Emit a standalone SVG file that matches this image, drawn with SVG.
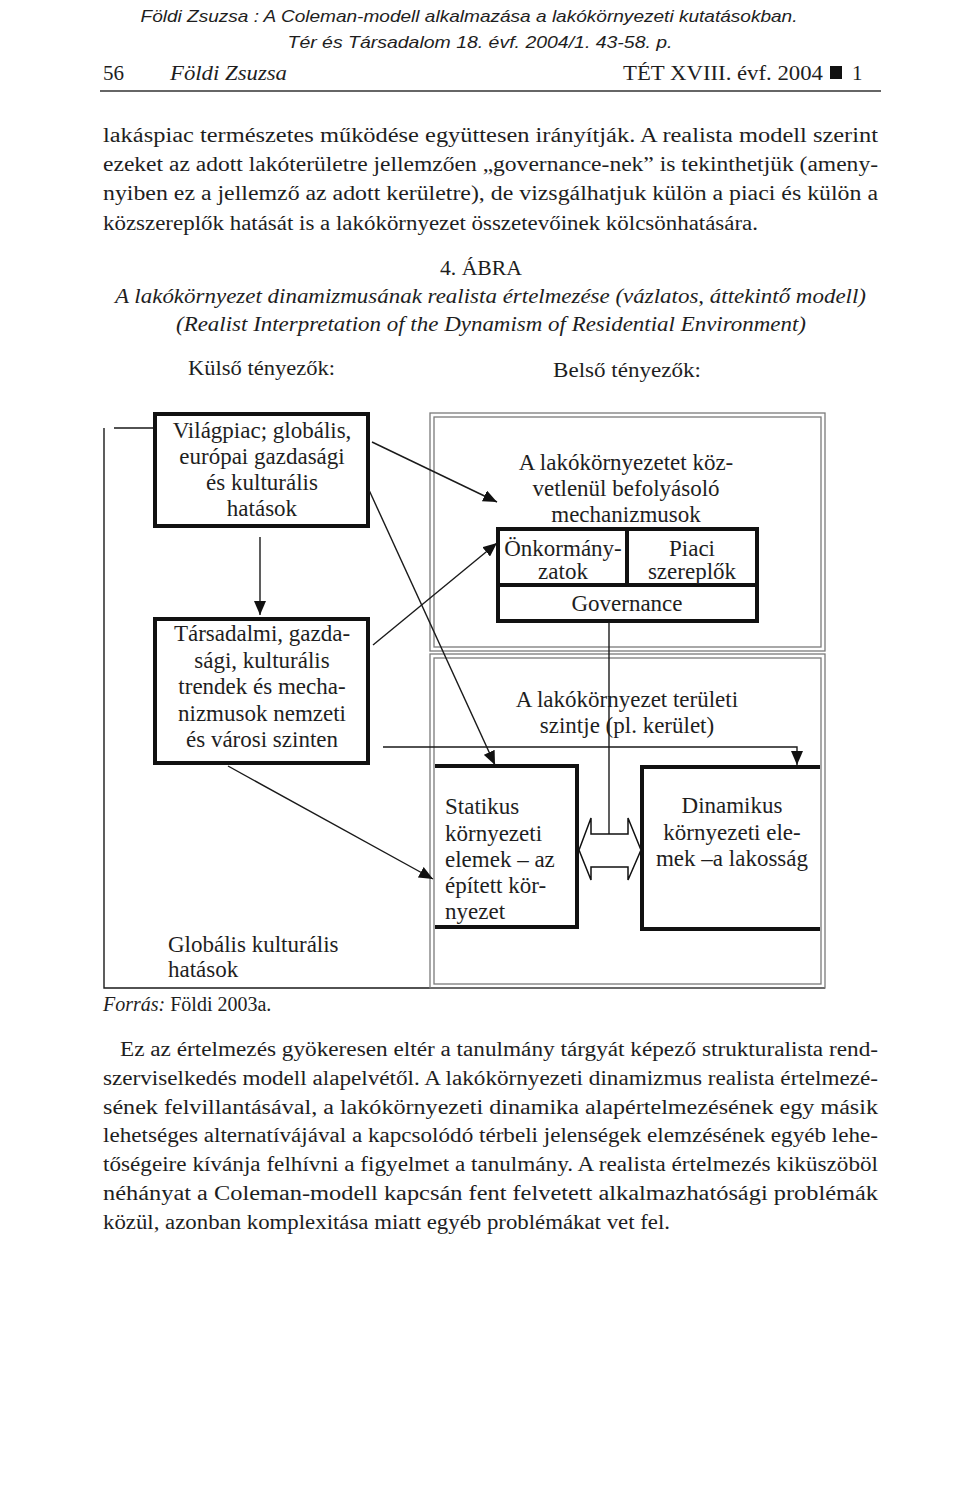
<svg xmlns="http://www.w3.org/2000/svg" width="960" height="1496" viewBox="0 0 960 1496">
<style>
.s{font-family:"Liberation Serif","Times New Roman",serif;fill:#1e1e1e}
.b{font-size:20.5px}
.d{font-size:23px}
.i{font-style:italic}
.h{font-family:"Liberation Sans",Arial,sans-serif;font-style:italic;font-size:17px;fill:#1e1e1e}
.m{text-anchor:middle}
.thick{fill:none;stroke:#111;stroke-width:4}
.frame{fill:none;stroke:#7a7a7a;stroke-width:1.3}
.ln{fill:none;stroke:#1a1a1a;stroke-width:1.4}
</style>
<defs>
<marker id="ah" viewBox="0 0 14 12" refX="14" refY="6" markerWidth="14" markerHeight="12" markerUnits="userSpaceOnUse" orient="auto">
<path d="M0,0 L14,6 L0,12 Z" fill="#111"/>
</marker>
</defs>
<rect width="960" height="1496" fill="#fff"/>

<g id="header">
<text class="h m" x="469" y="22" textLength="657" lengthAdjust="spacingAndGlyphs">Földi Zsuzsa : A Coleman-modell alkalmazása a lakókörnyezeti kutatásokban.</text>
<text class="h m" x="480" y="48" textLength="385" lengthAdjust="spacingAndGlyphs">Tér és Társadalom 18. évf. 2004/1. 43-58. p.</text>
<text class="s" x="103" y="80" font-size="21">56</text>
<text class="s i" x="170" y="80" font-size="21" textLength="117" lengthAdjust="spacingAndGlyphs">Földi Zsuzsa</text>
<text class="s" x="623" y="80" font-size="21" textLength="200" lengthAdjust="spacingAndGlyphs">TÉT XVIII. évf. 2004</text>
<rect x="830" y="66" width="12" height="13" fill="#111"/>
<text class="s" x="852" y="80" font-size="21">1</text>
<line x1="100" y1="91" x2="881" y2="91" stroke="#333" stroke-width="1.5"/>
</g>

<g id="para1" class="s b">
<text x="103" y="142" textLength="775" lengthAdjust="spacingAndGlyphs">lakáspiac természetes működése együttesen irányítják. A realista modell szerint</text>
<text x="103" y="171" textLength="775" lengthAdjust="spacingAndGlyphs">ezeket az adott lakóterületre jellemzően „governance-nek” is tekinthetjük (ameny-</text>
<text x="103" y="200" textLength="775" lengthAdjust="spacingAndGlyphs">nyiben ez a jellemző az adott kerületre), de vizsgálhatjuk külön a piaci és külön a</text>
<text x="103" y="230" textLength="655" lengthAdjust="spacingAndGlyphs">közszereplők hatását is a lakókörnyezet összetevőinek kölcsönhatására.</text>
</g>

<g id="caption" class="s b">
<text class="m" x="481" y="275" textLength="82" lengthAdjust="spacingAndGlyphs">4. ÁBRA</text>
<text class="i" x="115" y="303" textLength="751" lengthAdjust="spacingAndGlyphs">A lakókörnyezet dinamizmusának realista értelmezése (vázlatos, áttekintő modell)</text>
<text class="i" x="176" y="331" textLength="630" lengthAdjust="spacingAndGlyphs">(Realist Interpretation of the Dynamism of Residential Environment)</text>
<text x="188" y="375" textLength="147" lengthAdjust="spacingAndGlyphs">Külső tényezők:</text>
<text x="553" y="377" textLength="148" lengthAdjust="spacingAndGlyphs">Belső tényezők:</text>
</g>

<g id="outer-frame">
<path class="ln" d="M114,428 H153 M104,428 V988 H825"/>
</g>

<g id="inner-frame-top">
<rect class="frame" x="430" y="413" width="395" height="238"/>
<rect class="frame" x="434" y="417" width="387" height="230"/>
<text class="s d m" x="626" y="470">A lakókörnyezetet köz-</text>
<text class="s d m" x="626" y="496">vetlenül befolyásoló</text>
<text class="s d m" x="626" y="522">mechanizmusok</text>
</g>

<g id="inner-frame-bottom">
<rect class="frame" x="430" y="654" width="395" height="334"/>
<rect class="frame" x="434" y="658" width="387" height="326"/>
<text class="s d m" x="627" y="707">A lakókörnyezet területi</text>
<text class="s d m" x="627" y="733">szintje (pl. kerület)</text>
</g>

<g id="node-vilagpiac">
<rect class="thick" x="155" y="414" width="213" height="112"/>
<text class="s d m" x="262" y="438">Világpiac; globális,</text>
<text class="s d m" x="262" y="464">európai gazdasági</text>
<text class="s d m" x="262" y="490">és kulturális</text>
<text class="s d m" x="262" y="516">hatások</text>
</g>

<g id="node-tarsadalmi">
<rect class="thick" x="155" y="619" width="213" height="144"/>
<text class="s d m" x="262" y="641">Társadalmi, gazda-</text>
<text class="s d m" x="262" y="668">sági, kulturális</text>
<text class="s d m" x="262" y="694">trendek és mecha-</text>
<text class="s d m" x="262" y="721">nizmusok nemzeti</text>
<text class="s d m" x="262" y="747">és városi szinten</text>
</g>

<g id="node-mechanizmusok">
<rect class="thick" x="498" y="529" width="259" height="92"/>
<path class="thick" d="M627,529 V585 M498,585 H757"/>
<text class="s d m" x="563" y="556">Önkormány-</text>
<text class="s d m" x="563" y="579">zatok</text>
<text class="s d m" x="692" y="556">Piaci</text>
<text class="s d m" x="692" y="579">szereplők</text>
<text class="s d m" x="627" y="611">Governance</text>
</g>

<g id="node-statikus">
<path class="thick" d="M435,766 H577 V927 H435"/>
<text class="s d" x="445" y="814">Statikus</text>
<text class="s d" x="445" y="841">környezeti</text>
<text class="s d" x="445" y="867">elemek – az</text>
<text class="s d" x="445" y="893">épített kör-</text>
<text class="s d" x="445" y="919">nyezet</text>
</g>

<g id="node-dinamikus">
<path class="thick" d="M820,767 H642 V929 H820"/>
<text class="s d m" x="732" y="813">Dinamikus</text>
<text class="s d m" x="732" y="840">környezeti ele-</text>
<text class="s d m" x="732" y="866">mek –a lakosság</text>
</g>

<g id="node-globalis">
<text class="s d" x="168" y="952">Globális kulturális</text>
<text class="s d" x="168" y="977">hatások</text>
</g>

<g id="source">
<text class="s" x="103" y="1011" font-size="20"><tspan font-style="italic">Forrás:</tspan> Földi 2003a.</text>
</g>

<g id="connectors">
<line class="ln" x1="260" y1="537" x2="260" y2="615" marker-end="url(#ah)"/>
<line class="ln" x1="372" y1="442" x2="497" y2="502" marker-end="url(#ah)"/>
<line class="ln" x1="369" y1="490" x2="495" y2="765" marker-end="url(#ah)"/>
<line class="ln" x1="373" y1="645" x2="497" y2="543" marker-end="url(#ah)"/>
<line class="ln" x1="228" y1="766" x2="433" y2="879" marker-end="url(#ah)"/>
<path class="ln" d="M383,747 H797 V765" marker-end="url(#ah)"/>
<line class="ln" x1="609" y1="622" x2="609" y2="834"/>
<polygon points="579,850 591,818 591,834 628,834 628,818 641,850 628,880 628,867 591,867 591,880" fill="#fff" stroke="#111" stroke-width="1.5"/>
</g>

<g id="para2" class="s b">
<text x="120" y="1056" textLength="758" lengthAdjust="spacingAndGlyphs">Ez az értelmezés gyökeresen eltér a tanulmány tárgyát képező strukturalista rend-</text>
<text x="103" y="1085" textLength="775" lengthAdjust="spacingAndGlyphs">szerviselkedés modell alapelvétől. A lakókörnyezeti dinamizmus realista értelmezé-</text>
<text x="103" y="1114" textLength="775" lengthAdjust="spacingAndGlyphs">sének felvillantásával, a lakókörnyezeti dinamika alapértelmezésének egy másik</text>
<text x="103" y="1142" textLength="775" lengthAdjust="spacingAndGlyphs">lehetséges alternatívájával a kapcsolódó térbeli jelenségek elemzésének egyéb lehe-</text>
<text x="103" y="1171" textLength="775" lengthAdjust="spacingAndGlyphs">tőségeire kívánja felhívni a figyelmet a tanulmány. A realista értelmezés kiküszöböl</text>
<text x="103" y="1200" textLength="775" lengthAdjust="spacingAndGlyphs">néhányat a Coleman-modell kapcsán fent felvetett alkalmazhatósági problémák</text>
<text x="103" y="1229" textLength="567" lengthAdjust="spacingAndGlyphs">közül, azonban komplexitása miatt egyéb problémákat vet fel.</text>
</g>
</svg>
